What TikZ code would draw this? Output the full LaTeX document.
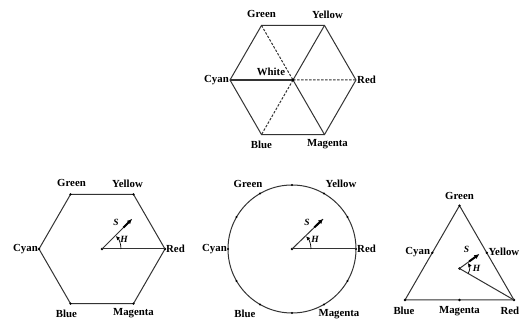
\documentclass[tikz,border=0pt]{standalone}
\usepackage{fontspec}
\setmainfont{Liberation Serif}
\usetikzlibrary{calc,arrows.meta}
\begin{document}
\begin{tikzpicture}[x=1pt,y=1pt,
  lbl/.style={font=\fontsize{10.8}{12}\selectfont\bfseries, inner sep=1pt},
  ilbl/.style={font=\fontsize{9.5}{10}\selectfont\bfseries\itshape, inner sep=1pt},
  edge/.style={line width=1pt, black!80},
  vdot/.style={circle, fill=black, inner sep=0pt, minimum size=2.6pt},
  sarrow/.style={line width=2pt, -{Latex[length=4.5pt,width=5pt]}},
  harrow/.style={line width=0.7pt, -{Latex[length=4pt,width=4pt]}}]
\useasboundingbox (0,0) rectangle (520,324);
\fill[white] (0,0) rectangle (520,324);

% ---------- top hexagon ----------
\coordinate (W) at (293,244);
\foreach \n/\a in {tR/0,tY/60,tG/120,tC/180,tB/240,tM/300}
  \coordinate (\n) at ($(W)+(\a:63)$);
\draw[edge] (tR) -- (tY) -- (tG) -- (tC) -- (tB) -- (tM) -- cycle;
\draw[edge, line width=1.4pt] (tC) -- (W);
\draw[edge] (tY) -- (W) -- (tM);
\draw[edge, dashed, dash pattern=on 2.5pt off 1.5pt] (tG) -- (W) (W) -- (tR) (W) -- (tB);
\node[vdot, minimum size=3.2pt] (wd) at (W) {};
\node[lbl] (tgl) at ($(tG)+(0,11)$) {Green};
\node[lbl] (tyl) at ($(tY)+(3,11)$) {Yellow};
\node[lbl, anchor=east] (tcl) at (tC) {Cyan};
\node[lbl, anchor=west] (trl) at (tR) {Red};
\node[lbl] (tbl) at ($(tB)+(0,-10)$) {Blue};
\node[lbl] (tml) at ($(tM)+(3,-10)$) {Magenta};
\node[lbl] (twl) at ($(W)+(-22,8)$) {White};

% ---------- bottom-left hexagon ----------
\coordinate (H) at (102,75);
\foreach \n/\a in {hR/0,hY/60,hG/120,hC/180,hB/240,hM/300}
  \coordinate (\n) at ($(H)+(\a:63)$);
\draw[edge] (hR) -- (hY) -- (hG) -- (hC) -- (hB) -- (hM) -- cycle;
\foreach \n in {hR,hY,hG,hC,hB,hM} \node[vdot] at (\n) {};
\node[lbl] (hgl) at ($(hG)+(1,11)$) {Green};
\node[lbl] (hyl) at ($(hY)+(-6,11)$) {Yellow};
\node[lbl, anchor=east] (hcl) at (hC) {Cyan};
\node[lbl, anchor=west] (hrl) at (hR) {Red};
\node[lbl] (hbl) at ($(hB)+(-4,-10)$) {Blue};
\node[lbl] (hml) at ($(hM)+(0,-10)$) {Magenta};
\node[vdot] (hc) at (H) {};
\coordinate (hT) at ($(H)+(45:42)$);
\draw[edge] (H) -- (hR);
\draw[edge] (H) -- (hT);
\draw[sarrow] ($(H)!0.72!(hT)$) -- (hT);
\draw[harrow] ($(H)+(0:19)$) arc (0:43:19);
\node[ilbl] (hs) at ($(H)+(14,27)$) {S};
\node[ilbl] (hh) at ($(H)+(22,10)$) {H};

% ---------- circle ----------
\coordinate (O) at (292,75);
\draw[edge] (O) circle (64);
\foreach \a in {0,30,...,330} \node[vdot, minimum size=2.2pt] at ($(O)+(\a:64)$) {};
\foreach \n/\a in {cR/0,cY/60,cG/120,cC/180,cB/240,cM/300}
  \coordinate (\n) at ($(O)+(\a:64)$);
\node[lbl] (cgl) at (248,140) {Green};
\node[lbl] (cyl) at (341,140) {Yellow};
\node[lbl, anchor=east] (ccl) at (cC) {Cyan};
\node[lbl, anchor=west] (crl) at (cR) {Red};
\node[lbl] (cbl) at (245,10) {Blue};
\node[lbl] (cml) at (339,10) {Magenta};
\node[vdot] (oc) at (O) {};
\coordinate (cT) at ($(O)+(44:43)$);
\draw[edge] (O) -- (cR);
\draw[edge] (O) -- (cT);
\draw[sarrow] ($(O)!0.72!(cT)$) -- (cT);
\draw[harrow] ($(O)+(0:19)$) arc (0:42:19);
\node[ilbl] (cs) at ($(O)+(15,27)$) {S};
\node[ilbl] (ch) at ($(O)+(23,10)$) {H};

% ---------- triangle ----------
\coordinate (rB) at (405,24);
\coordinate (rR) at (514,24);
\coordinate (rG) at (459.5,118.4);
\coordinate (rX) at (459.5,55.5);
\coordinate (rC) at ($(rB)!0.5!(rG)$);
\coordinate (rY) at ($(rR)!0.5!(rG)$);
\coordinate (rM) at ($(rB)!0.5!(rR)$);
\draw[edge] (rB) -- (rR) -- (rG) -- cycle;
\foreach \n in {rB,rR,rG,rC,rY,rM} \node[vdot] at (\n) {};
\node[lbl] (rgl) at ($(rG)+(0,10)$) {Green};
\node[lbl, anchor=east] (rcl) at ($(rC)+(-1,1)$) {Cyan};
\node[lbl, anchor=east, inner sep=0.3pt] (ryl) at (519.7,72.5) {Yellow};
\node[lbl, anchor=east, inner sep=0.3pt] (rrl) at (519.7,13) {Red};
\node[lbl] (rbl) at ($(rB)+(-1,-11)$) {Blue};
\node[lbl] (rml) at ($(rM)+(0,-11)$) {Magenta};
\node[vdot] (xc) at (rX) {};
\coordinate (rT) at ($(rX)+(36:24)$);
\draw[edge] (rX) -- (rR);
\draw[edge] (rX) -- (rT);
\draw[sarrow] ($(rX)!0.5!(rT)$) -- (rT);
\draw[harrow] ($(rX)+(-30:10)$) arc (-30:33:10);
\node[ilbl] (rs) at ($(rX)+(7,19)$) {S};
\node[ilbl] (rh) at ($(rX)+(17,0)$) {H};
\end{tikzpicture}
\end{document}
